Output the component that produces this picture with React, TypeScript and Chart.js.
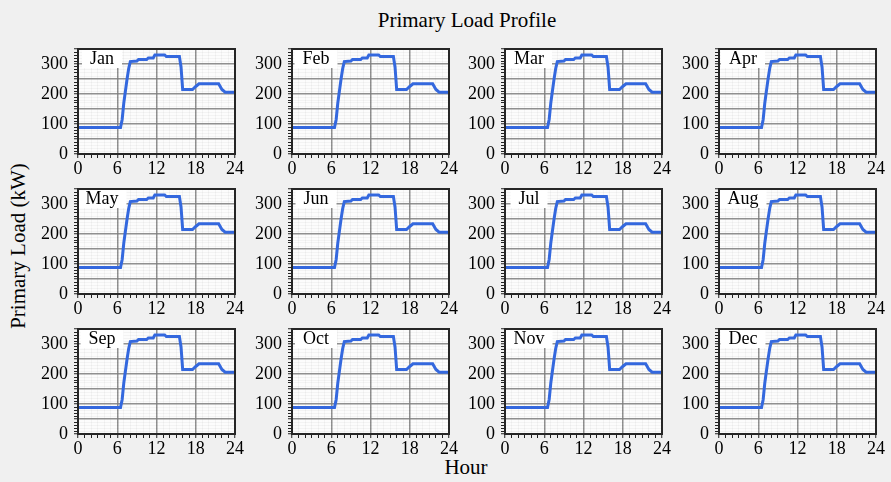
import React, { useEffect, useRef } from 'react';
import { Chart, registerables } from 'chart.js';

Chart.register(...registerables);

// ---- data ----
const months = ['Jan', 'Feb', 'Mar', 'Apr', 'May', 'Jun', 'Jul', 'Aug', 'Sep', 'Oct', 'Nov', 'Dec'];
const hours = [0, 6.5, 6.75, 7, 7.25, 7.5, 7.75, 8, 9, 9.25, 10.5, 10.75, 11.5, 11.75, 13.25, 13.5, 15.5, 15.75, 16, 17.5, 18, 18.5, 21.5, 22, 22.5, 24];
const loadKW = [88, 88, 115, 170, 210, 250, 285, 308, 310, 315, 315, 320, 320, 330, 330, 325, 325, 290, 215, 215, 225, 234, 234, 215, 206, 206];
const xLabelEvery = 6;
const yLabelEvery = 100;
const yMajorEvery = 50;
const yMax = 350;
const xMax = 24;

const FONT = "'Liberation Serif', 'Times New Roman', Times, serif";
const LINE = 'rgb(52, 104, 222)';
const MAJOR = 'rgba(125,125,125,0.85)';
const MINOR = 'rgba(0,0,0,0.035)';
const BG = '#f0f0f0';

const Y_AXIS_W = 50;
const X_AXIS_H = 28;
const PAD_TOP = 6;
const PAD_RIGHT = 12;
const PLOT_W = 157;
const PLOT_H = 105;

const panelPlugin = (label: string) => ({
  id: 'panelDeco',
  beforeDraw(chart: any) {
    const { ctx, chartArea: a } = chart;
    ctx.save();
    ctx.fillStyle = '#fcfcfc';
    ctx.fillRect(a.left, a.top, a.right - a.left, a.bottom - a.top);
    ctx.restore();
  },
  afterDraw(chart: any) {
    const { ctx, chartArea: a } = chart;
    ctx.save();
    ctx.font = `18px ${FONT}`;
    const w = ctx.measureText(label).width;
    const cx = a.left + 24;
    ctx.fillStyle = '#ffffff';
    ctx.fillRect(cx - w / 2 - 8, a.top + 1, w + 16, 18);
    ctx.fillStyle = '#000';
    ctx.textAlign = 'center';
    ctx.textBaseline = 'middle';
    ctx.fillText(label, cx, a.top + 10);
    ctx.strokeStyle = '#262626';
    ctx.lineWidth = 2;
    ctx.strokeRect(a.left, a.top, a.right - a.left, a.bottom - a.top);
    ctx.restore();
  },
});

function Panel({ month, left, top }: { month: string; left: number; top: number }) {
  const ref = useRef<HTMLCanvasElement>(null);
  useEffect(() => {
    if (!ref.current) return;
    const tickFont = { family: FONT, size: 18 };
    const chart = new Chart(ref.current, {
      type: 'line',
      data: {
        datasets: [
          {
            data: hours.map((h, i) => ({ x: h, y: loadKW[i] })),
            borderColor: LINE,
            borderWidth: 3,
            pointRadius: 0,
            tension: 0,
            fill: false,
          },
        ],
      },
      options: {
        animation: false,
        responsive: false,
        devicePixelRatio: 1,
        layout: { padding: { left: 0, top: PAD_TOP, right: PAD_RIGHT, bottom: 0 } },
        plugins: {
          legend: { display: false },
          tooltip: { enabled: false },
          title: { display: false },
        },
        scales: {
          x: {
            type: 'linear',
            min: 0,
            max: xMax,
            ticks: {
              stepSize: 1,
              autoSkip: false,
              maxRotation: 0,
              includeBounds: true,
              padding: 0,
              color: '#000',
              font: tickFont,
              callback: (v: any) => (Number(v) % xLabelEvery === 0 ? String(v) : ''),
            },
            grid: {
              color: (c: any) => (c.tick && c.tick.value % xLabelEvery === 0 ? MAJOR : MINOR),
              lineWidth: (c: any) => (c.tick && c.tick.value % xLabelEvery === 0 ? 1.5 : 1),
              tickColor: '#222',
              tickLength: 4,
              tickWidth: 1,
            },
            border: { display: false },
            afterFit: (s: any) => {
              s.height = X_AXIS_H;
              s.paddingLeft = 0;
              s.paddingRight = 0;
            },
          },
          y: {
            type: 'linear',
            min: 0,
            max: yMax,
            ticks: {
              stepSize: 10,
              autoSkip: false,
              padding: 6,
              color: '#000',
              font: tickFont,
              callback: (v: any) => (Number(v) % yLabelEvery === 0 ? String(v) : ''),
            },
            grid: {
              color: (c: any) => (c.tick && c.tick.value % yMajorEvery === 0 ? MAJOR : MINOR),
              lineWidth: (c: any) => (c.tick && c.tick.value % yMajorEvery === 0 ? 1.5 : 1),
              tickColor: '#222',
              tickLength: 4,
              tickWidth: 1,
            },
            border: { display: false },
            afterFit: (s: any) => {
              s.width = Y_AXIS_W;
              s.paddingTop = 0;
              s.paddingBottom = 0;
            },
          },
        },
      } as any,
      plugins: [panelPlugin(month)],
    });
    return () => chart.destroy();
  }, [month]);
  return (
    <canvas
      ref={ref}
      width={Y_AXIS_W + PLOT_W + PAD_RIGHT}
      height={PAD_TOP + PLOT_H + X_AXIS_H}
      style={{ position: 'absolute', left, top, display: 'block' }}
    />
  );
}

const textStyle: React.CSSProperties = {
  position: 'absolute',
  fontFamily: FONT,
  fontSize: 21,
  lineHeight: 1,
  color: '#000',
  whiteSpace: 'nowrap',
};

export default function App() {
  useEffect(() => {
    document.body.style.margin = '0';
  }, []);
  const colLeft = [78, 291.7, 505.3, 719];
  const rowTop = [48.5, 188.5, 328.5];
  return (
    <div style={{ position: 'absolute', left: 0, top: 0, width: 891, height: 482, background: BG, overflow: 'hidden' }}>
      <div style={{ ...textStyle, left: 467, top: 20, transform: 'translate(-50%, -50%)' }}>Primary Load Profile</div>
      <div style={{ ...textStyle, left: 466, top: 467, transform: 'translate(-50%, -50%)' }}>Hour</div>
      <div style={{ ...textStyle, left: 18, top: 246, transform: 'translate(-50%, -50%) rotate(-90deg)' }}>Primary Load (kW)</div>
      {months.map((m, i) => {
        const c = i % 4;
        const r = Math.floor(i / 4);
        return (
          <Panel
            key={m}
            month={m}
            left={Math.round(colLeft[c] - Y_AXIS_W)}
            top={Math.round(rowTop[r] - PAD_TOP)}
          />
        );
      })}
    </div>
  );
}
